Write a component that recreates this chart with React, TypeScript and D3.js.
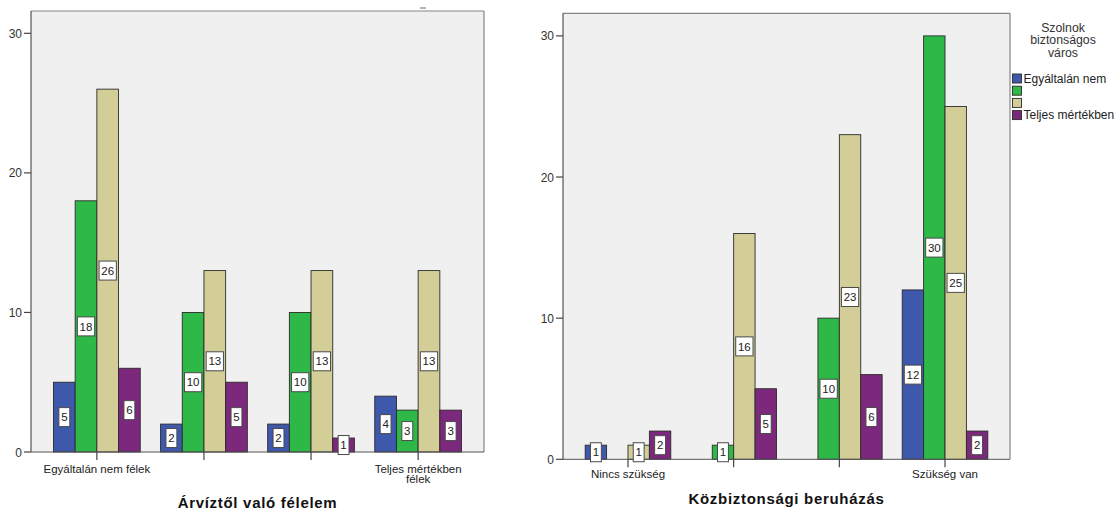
import React from "react";
import * as d3 from "d3";

// ---- data ----
const SERIES_NAMES = ["Egyáltalán nem", "", "", "Teljes mértékben"];
const SERIES_COLORS = ["#3E58AC", "#2EB848", "#D3CE97", "#7C287D"];
const LEGEND_TITLE = ["Szolnok", "biztonságos", "város"];

const LEFT_CATEGORIES = ["Egyáltalán nem félek", "", "", "Teljes mértékben\nfélek"];
const LEFT_TITLE = "Árvíztől való félelem";
const LEFT_BLUE = [5, 2, 2, 4];
const LEFT_GREEN = [18, 10, 10, 3];
const LEFT_TAN = [26, 13, 13, 13];
const LEFT_PURPLE = [6, 5, 1, 3];

const RIGHT_CATEGORIES = ["Nincs szükség", "", "", "Szükség van"];
const RIGHT_TITLE = "Közbiztonsági beruházás";
const RIGHT_BLUE = [1, 0, 0, 12];
const RIGHT_GREEN = [0, 1, 10, 30];
const RIGHT_TAN = [1, 16, 23, 25];
const RIGHT_PURPLE = [2, 5, 6, 2];

const Y_TICKS = [0, 10, 20, 30];
const Y_MAX = 31.6;

const FONT = "'Liberation Sans', Arial, sans-serif";

type ChartProps = {
  x0: number; x1: number; y0: number; y1: number;
  cats: string[]; series: number[][]; title: string;
  titleY: number; labelY: number;
};

function Chart({ x0, x1, y0, y1, cats, series, title, titleY, labelY }: ChartProps) {
  const x = d3.scaleBand<number>().domain(d3.range(cats.length)).range([x0, x1]).paddingInner(0.19).paddingOuter(0.21);
  const xs = d3.scaleBand<number>().domain(d3.range(series.length)).range([0, x.bandwidth()]);
  const y = d3.scaleLinear().domain([0, Y_MAX]).range([y1, y0]);
  const bw = xs.bandwidth();
  const bars: JSX.Element[] = [];
  const labels: JSX.Element[] = [];
  cats.forEach((_, ci) => {
    series.forEach((vals, si) => {
      const v = vals[ci];
      if (!v) return;
      const bx = (x(ci) as number) + (xs(si) as number);
      bars.push(
        <rect key={`b${ci}-${si}`} x={bx} y={y(v)} width={bw} height={y(0) - y(v)}
          fill={SERIES_COLORS[si]} stroke="#2b2b2b" strokeWidth={0.9} />
      );
      const txt = String(v);
      const w = txt.length * 6.4 + 4.5;
      const h = 19;
      const cx = bx + bw / 2;
      const cy = y(v / 2);
      labels.push(
        <g key={`l${ci}-${si}`}>
          <rect x={cx - w / 2} y={cy - h / 2} width={w} height={h} fill="#fff" stroke="#4a4a4a" strokeWidth={1} />
          <text x={cx} y={cy + 4.2} textAnchor="middle" fontSize={11.5} fill="#222" fontFamily={FONT}>{txt}</text>
        </g>
      );
    });
  });
  const cx = (x0 + x1) / 2;
  return (
    <g>
      <rect x={x0} y={y0} width={x1 - x0} height={y1 - y0} fill="#F0F0F0" />
      {bars}
      <line x1={x0} y1={y0} x2={x1} y2={y0} stroke="#858585" strokeWidth={1.2} />
      <line x1={x1} y1={y0} x2={x1} y2={y1} stroke="#858585" strokeWidth={1.2} />
      <line x1={x0} y1={y0} x2={x0} y2={y1} stroke="#333" strokeWidth={1} />
      <line x1={x0} y1={y1} x2={x1} y2={y1} stroke="#555" strokeWidth={1} />
      {Y_TICKS.map((t) => (
        <g key={`yt${t}`}>
          <line x1={x0 - 7} x2={x0} y1={y(t)} y2={y(t)} stroke="#444" strokeWidth={1.2} />
          <text x={x0 - 9} y={y(t) + 4.5} textAnchor="end" fontSize={12} fill="#333" fontFamily={FONT}>{t}</text>
        </g>
      ))}
      {cats.map((c, ci) => {
        const tx = (x(ci) as number) + x.bandwidth() / 2;
        return (
          <g key={`xt${ci}`}>
            <line x1={tx} x2={tx} y1={y1} y2={y1 + 8} stroke="#444" strokeWidth={1.2} />
            {c.split("\n").map((ln, li) => (
              <text key={li} x={tx} y={labelY + li * 10.5} textAnchor="middle" fontSize={11.5} fill="#222" fontFamily={FONT}>{ln}</text>
            ))}
          </g>
        );
      })}
      {labels}
      <text x={cx} y={titleY} textAnchor="middle" fontSize={15} letterSpacing={0.7} fontWeight="bold" fill="#111" fontFamily={FONT}>{title}</text>
    </g>
  );
}

export default function App() {
  const left = [LEFT_BLUE, LEFT_GREEN, LEFT_TAN, LEFT_PURPLE];
  const right = [RIGHT_BLUE, RIGHT_GREEN, RIGHT_TAN, RIGHT_PURPLE];
  const legX = 1012.5;
  const legY0 = 74;
  const legStep = 12.2;
  return (
    <svg width={1117} height={509} style={{ position: "absolute", left: 0, top: 0, background: "#fff" }}>
      <rect x={0} y={0} width={1117} height={509} fill="#fff" />
      <Chart x0={31} x1={484} y0={11} y1={452} cats={LEFT_CATEGORIES} series={left} title={LEFT_TITLE} titleY={508} labelY={472.7} />
      <Chart x0={563} x1={1010} y0={13.3} y1={459.3} cats={RIGHT_CATEGORIES} series={right} title={RIGHT_TITLE} titleY={504} labelY={477.5} />
      <line x1={420} x2={426} y1={8} y2={8} stroke="#666" strokeWidth={1} />
      {LEGEND_TITLE.map((t, i) => (
        <text key={`lt${i}`} x={1063} y={32 + i * 12.4} textAnchor="middle" fontSize={12.3} fill="#333" fontFamily={FONT}>{t}</text>
      ))}
      {SERIES_NAMES.map((n, i) => (
        <g key={`lg${i}`}>
          <rect x={legX} y={legY0 + i * legStep} width={9} height={9} fill={SERIES_COLORS[i]} stroke="#2b2b2b" strokeWidth={0.9} />
          <text x={legX + 11} y={legY0 + i * legStep + 8.5} fontSize={12} fill="#222" fontFamily={FONT}>{n}</text>
        </g>
      ))}
    </svg>
  );
}
